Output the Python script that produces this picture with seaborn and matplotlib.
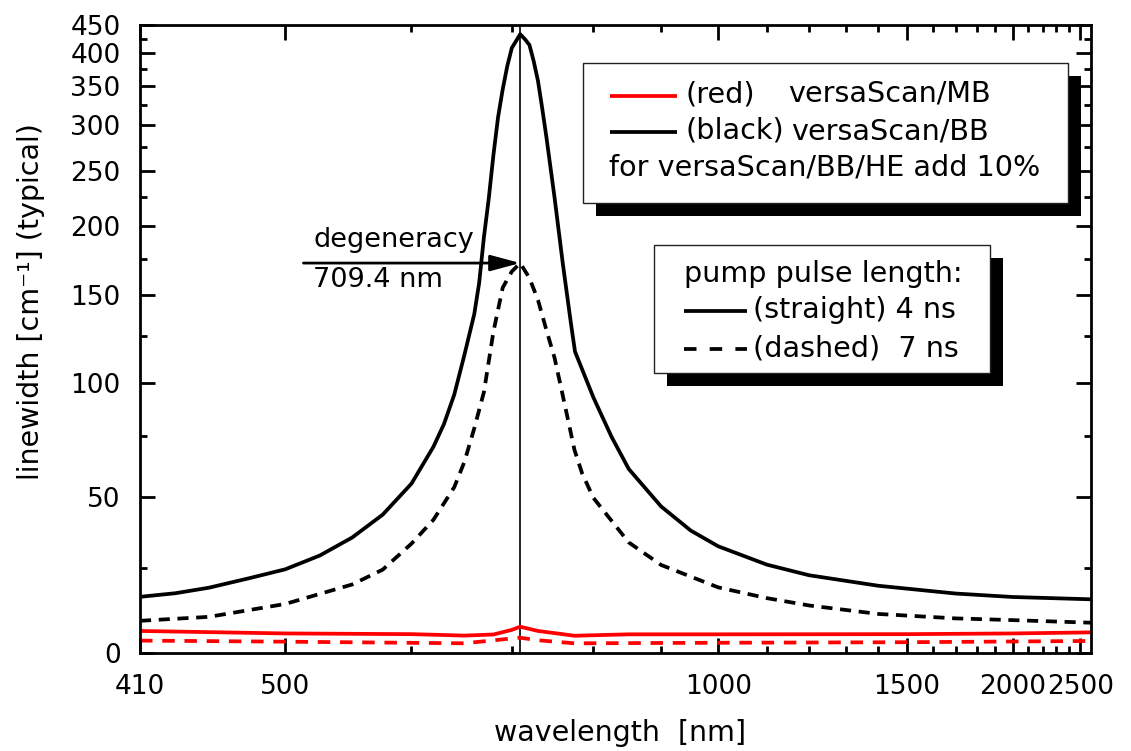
import numpy as np
import pandas as pd
import matplotlib
matplotlib.use("Agg")
import matplotlib.pyplot as plt
from matplotlib.ticker import FixedLocator, FuncFormatter
from matplotlib.patches import Rectangle
from matplotlib.lines import Line2D
import seaborn as sns

# ---------------- data ----------------
degeneracy_nm = 709.4

wl_bb_4ns = [410, 430, 450, 475, 500, 525, 550, 575, 600, 620, 630, 640, 650, 660,
             665, 670, 675, 680, 685, 690, 695, 700, 705, 709.4, 715, 720, 725, 730,
             735, 740, 750, 760, 770, 775.7, 800, 825, 850, 900, 950, 1000, 1100,
             1200, 1400, 1700, 2000, 2600]
lw_bb_4ns = [16.1, 17.2, 18.9, 21.8, 24.7, 29.2, 35.3, 43.4, 55.1, 70.1, 80.1, 94.0,
             114.4, 138.1, 158.0, 191.6, 223.4, 266.1, 309.4, 345.6, 379.6, 408.9,
             421.4, 433.0, 423.7, 414.0, 387.0, 357.4, 320.3, 285.8, 224.3, 172.4,
             134.0, 116.3, 92.6, 74.5, 60.9, 46.4, 37.7, 32.3, 26.2, 22.8, 19.5,
             17.1, 16.05, 15.35]

wl_bb_7ns = [410, 450, 500, 550, 575, 600, 620, 640, 650, 660, 670, 680, 690, 700,
             709.4, 720, 730, 740, 750, 760, 768, 775, 785, 800, 850, 900, 1000, 1100,
             1200, 1400, 1700, 2000, 2600]
lw_bb_7ns = [9.0, 10.15, 13.95, 19.9, 24.6, 33.2, 41.5, 53.7, 63.8, 78.2, 95.3, 127.6,
             155.0, 166.0, 172.0, 161.5, 146.9, 128.6, 112.8, 93.8, 80.0, 68.8, 59.1,
             49.6, 33.6, 26.1, 19.0, 15.7, 13.5, 11.0, 9.7, 9.2, 8.45]

wl_mb_4ns = [410, 500, 600, 650, 680, 700, 709.4, 730, 775, 850, 1000, 1500, 2000, 2600]
lw_mb_4ns = [6.1, 5.4, 5.2, 4.8, 5.1, 6.4, 7.3, 6.1, 4.75, 5.15, 5.15, 5.2, 5.4, 5.7]

wl_mb_7ns = [410, 500, 650, 700, 709.4, 730, 775, 1000, 1500, 2600]
lw_mb_7ns = [3.4, 3.1, 2.65, 4.0, 4.2, 3.5, 2.65, 2.8, 2.95, 3.3]

x_major = [410, 500, 1000, 1500, 2000, 2500]
x_minor = [600, 700, 800, 900, 1100, 1200, 1300, 1400, 1600, 1700, 1800, 1900,
           2100, 2200, 2300, 2400]
y_major = [0, 50, 100, 150, 200, 250, 300, 350, 400, 450]
y_minor = [25, 75, 125, 175, 225, 275, 325, 375, 425]
x_range = (410, 2600)
y_range = (0, 450)

# ---------------- style ----------------
sns.set_theme(style="ticks")
plt.rcParams["font.family"] = ["DejaVu Sans"]
plt.rcParams["axes.linewidth"] = 2.0
plt.rcParams["lines.scale_dashes"] = False

W, H = 1131, 751
fig = plt.figure(figsize=(W / 100, H / 100), dpi=100)
fig.patch.set_facecolor("white")
ax = fig.add_axes([140 / W, 1 - 653 / H, (1091 - 140) / W, (653 - 25) / H])
ax.set_facecolor("white")

OFF = 273.15  # "offset reciprocal" axis scale


def fwd(v):
    v = np.asarray(v, dtype=float)
    with np.errstate(all="ignore"):
        return -1.0 / (v + OFF)


def inv(u):
    u = np.asarray(u, dtype=float)
    with np.errstate(all="ignore"):
        return -1.0 / u - OFF


LW = 2.7  # points


def draw(xs, ys, color, dash=None):
    sns.lineplot(x=xs, y=ys, ax=ax, color=color, linewidth=LW,
                 estimator=None, sort=False, legend=False)
    ln = ax.lines[-1]
    ln.set_linewidth(LW)
    ln.set_solid_joinstyle("round")
    if dash is not None:
        ln.set_linestyle((0, dash))
    return ln


draw(wl_bb_4ns, lw_bb_4ns, "black")
draw(wl_bb_7ns, lw_bb_7ns, "black", dash=(8.0, 5.5))
draw(wl_mb_4ns, lw_mb_4ns, "#ff0000")
draw(wl_mb_7ns, lw_mb_7ns, "#ff0000", dash=(9.0, 7.0))

ax.set_xscale("function", functions=(fwd, inv))
ax.set_yscale("function", functions=(fwd, inv))
ax.set_xlim(*x_range)
ax.set_ylim(*y_range)

ax.axvline(degeneracy_nm, color="black", lw=1.2, zorder=1)

ax.xaxis.set_major_locator(FixedLocator(x_major))
ax.xaxis.set_minor_locator(FixedLocator(x_minor))
ax.yaxis.set_major_locator(FixedLocator(y_major))
ax.yaxis.set_minor_locator(FixedLocator(y_minor))
fmt = FuncFormatter(lambda v, p: f"{v:g}")
ax.xaxis.set_major_formatter(fmt)
ax.yaxis.set_major_formatter(fmt)
ax.xaxis.set_minor_formatter(FuncFormatter(lambda v, p: ""))
ax.yaxis.set_minor_formatter(FuncFormatter(lambda v, p: ""))

ax.tick_params(which="both", direction="in", top=True, right=True,
               width=2.0, color="black", labelcolor="black")
ax.tick_params(which="major", length=11, labelsize=19)
ax.tick_params(axis="x", which="major", pad=15)
ax.tick_params(axis="y", which="major", pad=14)
ax.tick_params(which="minor", length=5)
for s in ax.spines.values():
    s.set_color("black")
    s.set_linewidth(2.0)

ax.set_xlabel("wavelength  [nm]", fontsize=20.5, color="black")
ax.xaxis.set_label_coords(0.5047, -0.105)
ax.set_ylabel("linewidth [cm\u207b\u00b9] (typical)", fontsize=20.5, color="black")
ax.yaxis.set_label_coords(-0.100, 0.56)

# degeneracy annotation
ax.annotate("", xy=(degeneracy_nm, 172.0), xytext=(513, 172.0),
            arrowprops=dict(arrowstyle="-|>,head_length=1.3,head_width=0.35",
                            mutation_scale=14, lw=2.0, color="black",
                            shrinkA=0, shrinkB=0), zorder=5)
ax.text(520, 189, "degeneracy", ha="left", va="center", fontsize=19.5, color="black")
ax.text(520, 160, "709.4 nm", ha="left", va="center", fontsize=19.5, color="black")


# ---------------- custom legends (figure pixel coords) ----------------
def fx(x):
    return x / W


def fy(y):
    return 1 - y / H


def box(x0, y0, x1, y1, sh=13):
    fig.add_artist(Rectangle((fx(x0 + sh), fy(y1 + sh)), (x1 - x0) / W, (y1 - y0) / H,
                             transform=fig.transFigure, facecolor="black",
                             edgecolor="black", lw=0, zorder=10))
    fig.add_artist(Rectangle((fx(x0), fy(y1)), (x1 - x0) / W, (y1 - y0) / H,
                             transform=fig.transFigure, facecolor="white",
                             edgecolor="#222222", lw=1.0, zorder=11))


def sample(x0, x1, y, color, ls="-"):
    fig.add_artist(Line2D([fx(x0), fx(x1)], [fy(y), fy(y)], transform=fig.transFigure,
                          color=color, lw=LW, linestyle=ls, zorder=12,
                          solid_capstyle="butt", dash_capstyle="butt"))


def label(x, y, s, size=20.6):
    fig.text(fx(x), fy(y), s, ha="left", va="center", fontsize=size,
             color="black", zorder=13)


box(583, 63, 1068, 203)
sample(610, 677, 96, "#ff0000")
label(685, 94, "(red)")
label(788, 94, "versaScan/MB")
sample(610, 677, 132, "black")
label(685, 131, "(black)")
label(791, 131, "versaScan/BB")
label(609, 168, "for versaScan/BB/HE add 10%")

box(654, 245, 990, 373)
label(684, 274, "pump pulse length:")
sample(684, 747, 311, "black")
label(753, 310, "(straight) 4 ns")
sample(684, 747, 349, "black", ls=(0, (9.0, 9.5)))
label(753, 348, "(dashed)  7 ns")

fig.savefig("out.png", dpi=100, facecolor="white")
